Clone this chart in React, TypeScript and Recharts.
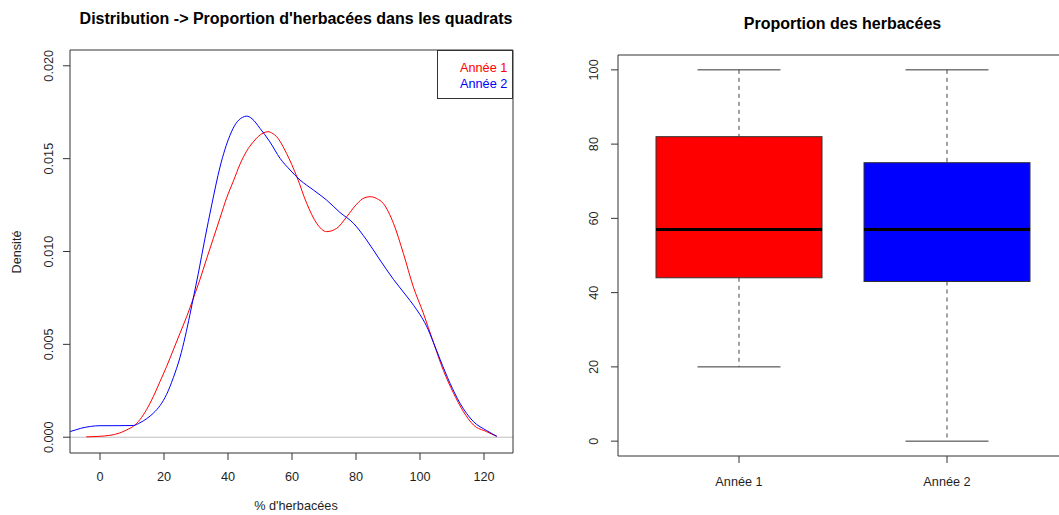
import React from 'react';
import { LineChart, Line, XAxis, YAxis, ReferenceLine, ComposedChart, Bar } from 'recharts';

// Densité - Année 1 (rouge)
const redX = [-4.3, 0, 3, 6, 8.3, 10.5, 12.5, 14.6, 16.7, 18.75, 20.8, 22.9, 25, 27.1, 29.2, 31.25, 33.3, 35.4, 37.5, 39.6, 41.7, 43.75, 45.8, 47.9, 49.5, 51, 52.5, 54, 55.2, 58.3, 61.5, 64.6, 67.7, 70.8, 74, 77.1, 80.2, 82.5, 84.4, 86.5, 88.5, 91.7, 94.8, 97.9, 101, 104.2, 107.3, 110.4, 113.5, 116.7, 120.8, 124];
const redY = [0.00002, 0.00005, 0.0001, 0.00022, 0.00039, 0.0006, 0.00095, 0.0015, 0.0022, 0.003, 0.0038, 0.0047, 0.0056, 0.0065, 0.0075, 0.0085, 0.0096, 0.0107, 0.0118, 0.0129, 0.0138, 0.0147, 0.0154, 0.0159, 0.0162, 0.01638, 0.01645, 0.01635, 0.01618, 0.01528, 0.01403, 0.01259, 0.01152, 0.01107, 0.01125, 0.01187, 0.01255, 0.01288, 0.01295, 0.01285, 0.01259, 0.01152, 0.0099, 0.0081, 0.0067, 0.0051, 0.0036, 0.0024, 0.0014, 0.00066, 0.0003, 0.00004];

// Densité - Année 2 (bleu)
const blueX = [-12, -9.4, -6, -3, 0, 5, 10.4, 12.5, 14.6, 16.7, 18.75, 20.8, 22.9, 25, 26.6, 28.1, 29.4, 30.7, 32.8, 34.9, 37.5, 40.6, 42.5, 44.5, 45.8, 47.5, 50, 53.1, 56.25, 59.4, 62.5, 66.7, 70.8, 75, 79.2, 83.3, 87.5, 91.7, 95.8, 98, 100, 102, 104.2, 106.25, 109.4, 112.5, 116.7, 120.8, 124];
const blueY = [0.0002, 0.0003, 0.00048, 0.00058, 0.00062, 0.00062, 0.00063, 0.00078, 0.001, 0.0013, 0.0017, 0.0023, 0.0032, 0.0043, 0.0054, 0.0066, 0.0077, 0.0088, 0.0107, 0.0125, 0.01455, 0.01625, 0.0169, 0.01722, 0.01729, 0.01715, 0.01663, 0.0159, 0.01502, 0.01439, 0.01385, 0.01331, 0.01277, 0.0121, 0.01152, 0.01062, 0.00954, 0.0085, 0.0076, 0.0071, 0.0066, 0.006, 0.0051, 0.0042, 0.0029, 0.00183, 0.00084, 0.00036, 0.00005];

const xTicks = [0, 20, 40, 60, 80, 100, 120];
const densTicks = [0, 0.005, 0.01, 0.015, 0.02];

// Boxplot
const groups = ['Année 1', 'Année 2'];
const mins = [20, 0];
const q1s = [44, 43];
const medians = [57, 57];
const q3s = [82, 75];
const maxs = [100, 100];
const propTicks = [0, 20, 40, 60, 80, 100];

const BOX_COLORS = ['#ff0000', '#0000ff'];
const AXIS = '#333';
const TEXT = '#1f1f1f';
const FS = 12.7;

const redData = redX.map((x, i) => ({ x, y: redY[i] }));
const blueData = blueX.map((x, i) => ({ x, y: blueY[i] }));
const boxData = groups.map((name, i) => ({
  name,
  min: mins[i],
  q1: q1s[i],
  median: medians[i],
  q3: q3s[i],
  max: maxs[i],
}));

const rotTick = (dx: number, fmt: (v: number) => string) => (props: any) => {
  const { x, y, payload } = props;
  const tx = x - dx;
  return (
    <text x={tx} y={y} transform={`rotate(-90, ${tx}, ${y})`} textAnchor="middle" fill={TEXT} fontSize={FS}>
      {fmt(payload.value)}
    </text>
  );
};

const BoxShape = (props: any) => {
  const { x, y, width, height, payload, index } = props;
  const top = Math.min(y, y + height);
  const h = Math.abs(height);
  const { min, max, q1, q3, median } = payload;
  const py = (v: number) => top + ((max - v) / (max - min)) * h;
  const cx = x + width / 2;
  const cap = width / 4;
  return (
    <g>
      <line x1={cx} x2={cx} y1={py(max)} y2={py(q3)} stroke="#444" strokeDasharray="4 4" />
      <line x1={cx} x2={cx} y1={py(q1)} y2={py(min)} stroke="#444" strokeDasharray="4 4" />
      <line x1={cx - cap} x2={cx + cap} y1={py(max)} y2={py(max)} stroke={AXIS} />
      <line x1={cx - cap} x2={cx + cap} y1={py(min)} y2={py(min)} stroke={AXIS} />
      <rect x={x} y={py(q3)} width={width} height={py(q1) - py(q3)} fill={BOX_COLORS[index]} stroke={AXIS} />
      <line x1={x} x2={x + width} y1={py(median)} y2={py(median)} stroke="#000" strokeWidth={3} />
    </g>
  );
};

const DensityChart = () => (
  <LineChart width={530} height={515} margin={{ top: 49, right: 16, bottom: 0, left: 0 }}>
    <XAxis
      dataKey="x"
      type="number"
      domain={[-9.375, 129.06]}
      ticks={xTicks}
      interval={0}
      allowDataOverflow
      height={62}
      tickSize={7}
      tickMargin={12}
      axisLine={{ stroke: AXIS }}
      tickLine={{ stroke: AXIS }}
      tick={{ fill: TEXT, fontSize: FS }}
    />
    <XAxis
      xAxisId="top"
      orientation="top"
      dataKey="x"
      type="number"
      domain={[-9.375, 129.06]}
      allowDataOverflow
      height={1}
      tick={false}
      tickLine={false}
      axisLine={{ stroke: AXIS }}
    />
    <YAxis
      type="number"
      domain={[-0.00085, 0.02085]}
      ticks={densTicks}
      interval={0}
      allowDataOverflow
      width={70}
      tickSize={7}
      tickMargin={0}
      axisLine={{ stroke: AXIS }}
      tickLine={{ stroke: AXIS }}
      tick={rotTick(10, (v) => v.toFixed(3))}
    />
    <YAxis
      yAxisId="right"
      orientation="right"
      type="number"
      domain={[-0.00085, 0.02085]}
      allowDataOverflow
      width={1}
      tick={false}
      tickLine={false}
      axisLine={{ stroke: AXIS }}
    />
    <ReferenceLine y={0} stroke="#bebebe" />
    <Line data={redData} dataKey="y" type="monotone" stroke="#ff0000" strokeWidth={1} dot={false} isAnimationActive={false} />
    <Line data={blueData} dataKey="y" type="monotone" stroke="#0000ff" strokeWidth={1} dot={false} isAnimationActive={false} />
  </LineChart>
);

const BoxChart = () => (
  <ComposedChart width={518} height={515} data={boxData} margin={{ top: 54, right: 10, bottom: 0, left: 0 }}>
    <XAxis
      dataKey="name"
      type="category"
      padding={{ left: 17, right: 17 }}
      height={59}
      tickSize={7}
      tickMargin={14}
      axisLine={{ stroke: AXIS }}
      tickLine={{ stroke: AXIS }}
      tick={{ fill: TEXT, fontSize: FS }}
    />
    <XAxis
      xAxisId="top"
      orientation="top"
      dataKey="name"
      type="category"
      height={1}
      tick={false}
      tickLine={false}
      axisLine={{ stroke: AXIS }}
    />
    <YAxis
      type="number"
      domain={[-4, 104]}
      ticks={propTicks}
      interval={0}
      width={58}
      tickSize={7}
      tickMargin={0}
      axisLine={{ stroke: AXIS }}
      tickLine={{ stroke: AXIS }}
      tick={rotTick(12.7, (v) => String(v))}
    />
    <Bar
      dataKey={(d: any) => [d.min, d.max]}
      barSize={166}
      shape={<BoxShape />}
      isAnimationActive={false}
    />
  </ComposedChart>
);

const abs = (style: React.CSSProperties): React.CSSProperties => ({ position: 'absolute', whiteSpace: 'nowrap', ...style });

export default function App() {
  return (
    <div
      style={{
        position: 'absolute',
        left: 0,
        top: 0,
        width: 1059,
        height: 515,
        overflow: 'hidden',
        background: '#fff',
        fontFamily: '"Liberation Sans", Arial, sans-serif',
        color: TEXT,
      }}
    >
      <div style={abs({ left: 0, top: 0 })}>
        <DensityChart />
      </div>
      <div style={abs({ left: 560, top: 0 })}>
        <BoxChart />
      </div>

      <div style={abs({ left: 296, top: 10.5, transform: 'translateX(-50%)', fontSize: 16, fontWeight: 'bold', lineHeight: '16px', color: '#000' })}>
        Distribution -&gt; Proportion d'herbacées dans les quadrats
      </div>
      <div style={abs({ left: 842.5, top: 15.8, transform: 'translateX(-50%)', fontSize: 16, fontWeight: 'bold', lineHeight: '16px', color: '#000' })}>
        Proportion des herbacées
      </div>
      <div style={abs({ left: 296, top: 500, transform: 'translateX(-50%)', fontSize: FS, lineHeight: '13px' })}>
        % d'herbacées
      </div>
      <div style={abs({ left: 16.7, top: 251.7, transform: 'translate(-50%, -50%) rotate(-90deg)', fontSize: FS, lineHeight: '13px' })}>
        Densité
      </div>

      {/* légende */}
      <div style={abs({ left: 437, top: 50, width: 76, height: 49, border: `1px solid ${AXIS}`, boxSizing: 'border-box', fontSize: FS, lineHeight: '16px' })}>
        <span style={abs({ left: 22, top: 8.5, color: '#ff0000' })}>Année 1</span>
        <span style={abs({ left: 22, top: 24.5, color: '#0000ff' })}>Année 2</span>
      </div>
    </div>
  );
}
